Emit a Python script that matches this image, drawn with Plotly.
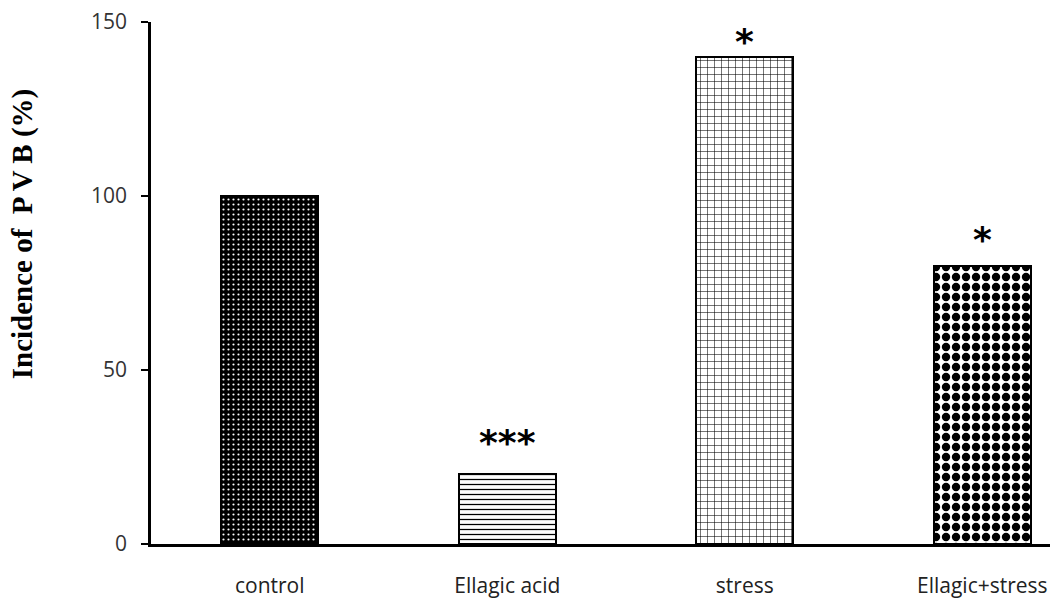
import plotly.graph_objects as go

categories = ["control", "Ellagic acid", "stress", "Ellagic+stress"]
values = [100, 20, 140, 80]
significance = ["", "***", "*", "*"]
y_ticks = [0, 50, 100, 150]

shapes = [".", "-", "+", "."]
bgcols = ["black", "white", "white", "white"]
fgcols = ["white", "black", "black", "black"]
sizes = [5, 5, 7, 10]
solid = [0.15, 0.25, 0.15, 0.55]
star_shift = [0, 9, -7, 4]

x_idx = list(range(len(categories)))

fig = go.Figure()
for i, (c, v) in enumerate(zip(categories, values)):
    fig.add_trace(go.Bar(
        x=[x_idx[i]], y=[v], width=0.41,
        marker=dict(
            color=bgcols[i],
            line=dict(color="black", width=2),
            pattern=dict(shape=shapes[i], bgcolor=bgcols[i], fgcolor=fgcols[i],
                         size=sizes[i], solidity=solid[i], fillmode="replace"),
        ),
        showlegend=False, hoverinfo="skip",
    ))

for i, (v, s) in enumerate(zip(values, significance)):
    if s:
        fig.add_annotation(x=x_idx[i], y=v, text="<b>" + s + "</b>", showarrow=False,
                           yanchor="bottom", yshift=star_shift[i],
                           font=dict(family="DejaVu Sans", size=36, color="black"))

fig.add_annotation(xref="paper", yref="paper", x=-0.142, y=0.594,
                   xanchor="center", yanchor="middle",
                   text="<b>Incidence of  P V B (%)</b>",
                   textangle=-90, showarrow=False,
                   font=dict(family="Liberation Serif", size=29, color="black"))

fig.update_layout(
    width=1053, height=598,
    margin=dict(l=151, r=3, t=22, b=54),
    plot_bgcolor="white", paper_bgcolor="white",
    bargap=0,
)
fig.update_xaxes(
    range=[-0.5, 3.285], tickmode="array", tickvals=x_idx, ticktext=categories,
    showline=True, linecolor="black", linewidth=2.5, ticks="", showgrid=False,
    zeroline=False, ticklabelstandoff=21, automargin=False,
    tickfont=dict(family="Open Sans", size=21, color="#222"),
)
fig.update_yaxes(
    range=[0, 150], tickmode="array", tickvals=y_ticks,
    showline=True, linecolor="black", linewidth=2.5, ticks="outside", ticklen=7,
    tickwidth=2, tickcolor="black", showgrid=False, zeroline=False, automargin=False,
    tickfont=dict(family="Open Sans", size=21, color="#333"), ticklabelstandoff=10,
)

fig.write_html("out.html", config={"displayModeBar": False},
               post_script="document.body.style.margin='0';")
